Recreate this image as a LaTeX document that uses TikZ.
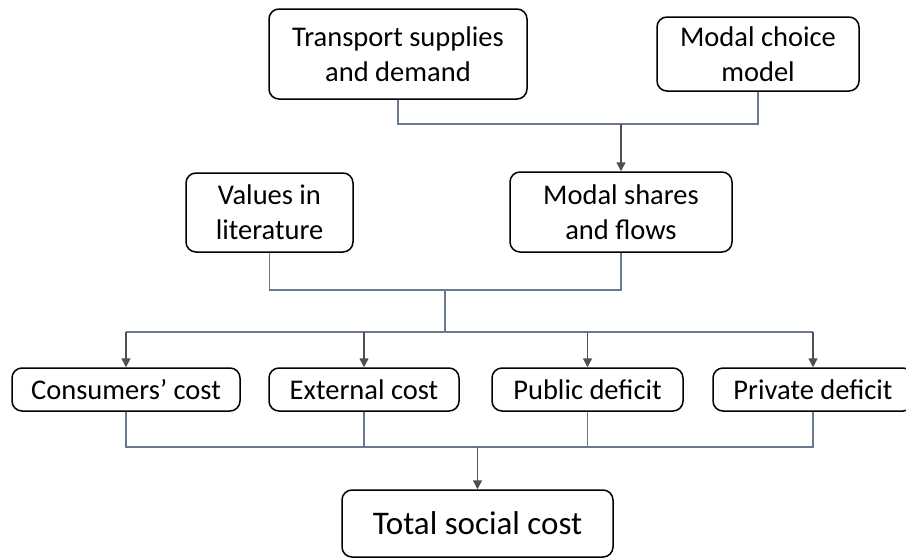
\documentclass[tikz,border=0pt]{standalone}
\usepackage{fontspec}
\setmainfont{Carlito}
\usetikzlibrary{arrows.meta}
\definecolor{conn}{HTML}{6A7890}
\definecolor{arr}{HTML}{505050}
\begin{document}
\begin{tikzpicture}[x=1pt,y=-1pt,
  boxstyle/.style={draw=black,line width=1.5pt,rounded corners=10pt,align=center,
    font=\fontsize{28.5}{35}\selectfont,inner sep=0pt,anchor=center},
  connline/.style={draw=conn,line width=1.4pt},
  arrline/.style={draw=arr,line width=1.5pt,-{Triangle[length=9pt,width=9pt]}}]
\useasboundingbox (0,0) rectangle (906,558);
\node[boxstyle,minimum width=258pt,minimum height=90pt] (tsd) at (398,54) {Transport supplies\\and demand};
\node[boxstyle,minimum width=202pt,minimum height=74pt] (mcm) at (758,54) {Modal choice\\model};
\node[boxstyle,minimum width=222pt,minimum height=80pt] (msf) at (621,212) {Modal shares\\and flows};
\node[boxstyle,minimum width=167pt,minimum height=79pt] (vil) at (269.5,212.5) {Values in\\literature};
\node[boxstyle,minimum width=228pt,minimum height=43pt] (cc) at (126,389.5) {Consumers’ cost};
\node[boxstyle,minimum width=190pt,minimum height=43pt] (ec) at (364,389.5) {External cost};
\node[boxstyle,minimum width=191pt,minimum height=43pt] (pd) at (587.5,389.5) {Public deficit};
\node[boxstyle,minimum width=200pt,minimum height=43pt] (prd) at (813,389.5) {Private deficit};
\node[boxstyle,minimum width=271pt,minimum height=67pt,font=\fontsize{33}{40}\selectfont] (tsc) at (477.5,523.5) {Total social cost};
% top merge
\coordinate (j1) at (621,124);
\draw[connline] (tsd.south) |- (j1) -| (mcm.south);
\draw[arrline] (j1) -- (msf.north);
% middle merge
\coordinate (j2) at (445,290);
\coordinate (j3) at (445,332);
\draw[connline] (vil.south) |- (j2) -| (msf.south);
\draw[connline] (j2) -- (j3);
\draw[connline] (cc.north |- j3) -- (prd.north |- j3);
\draw[arrline] (cc.north |- j3) -- (cc.north);
\draw[arrline] (ec.north |- j3) -- (ec.north);
\draw[arrline] (pd.north |- j3) -- (pd.north);
\draw[arrline] (prd.north |- j3) -- (prd.north);
% bottom merge
\coordinate (j4) at (477.5,447);
\draw[connline] (cc.south) |- (j4) -| (prd.south);
\draw[connline] (ec.south) -- (ec.south |- j4);
\draw[connline] (pd.south) -- (pd.south |- j4);
\draw[arrline] (j4) -- (tsc.north);
\end{tikzpicture}
\end{document}
